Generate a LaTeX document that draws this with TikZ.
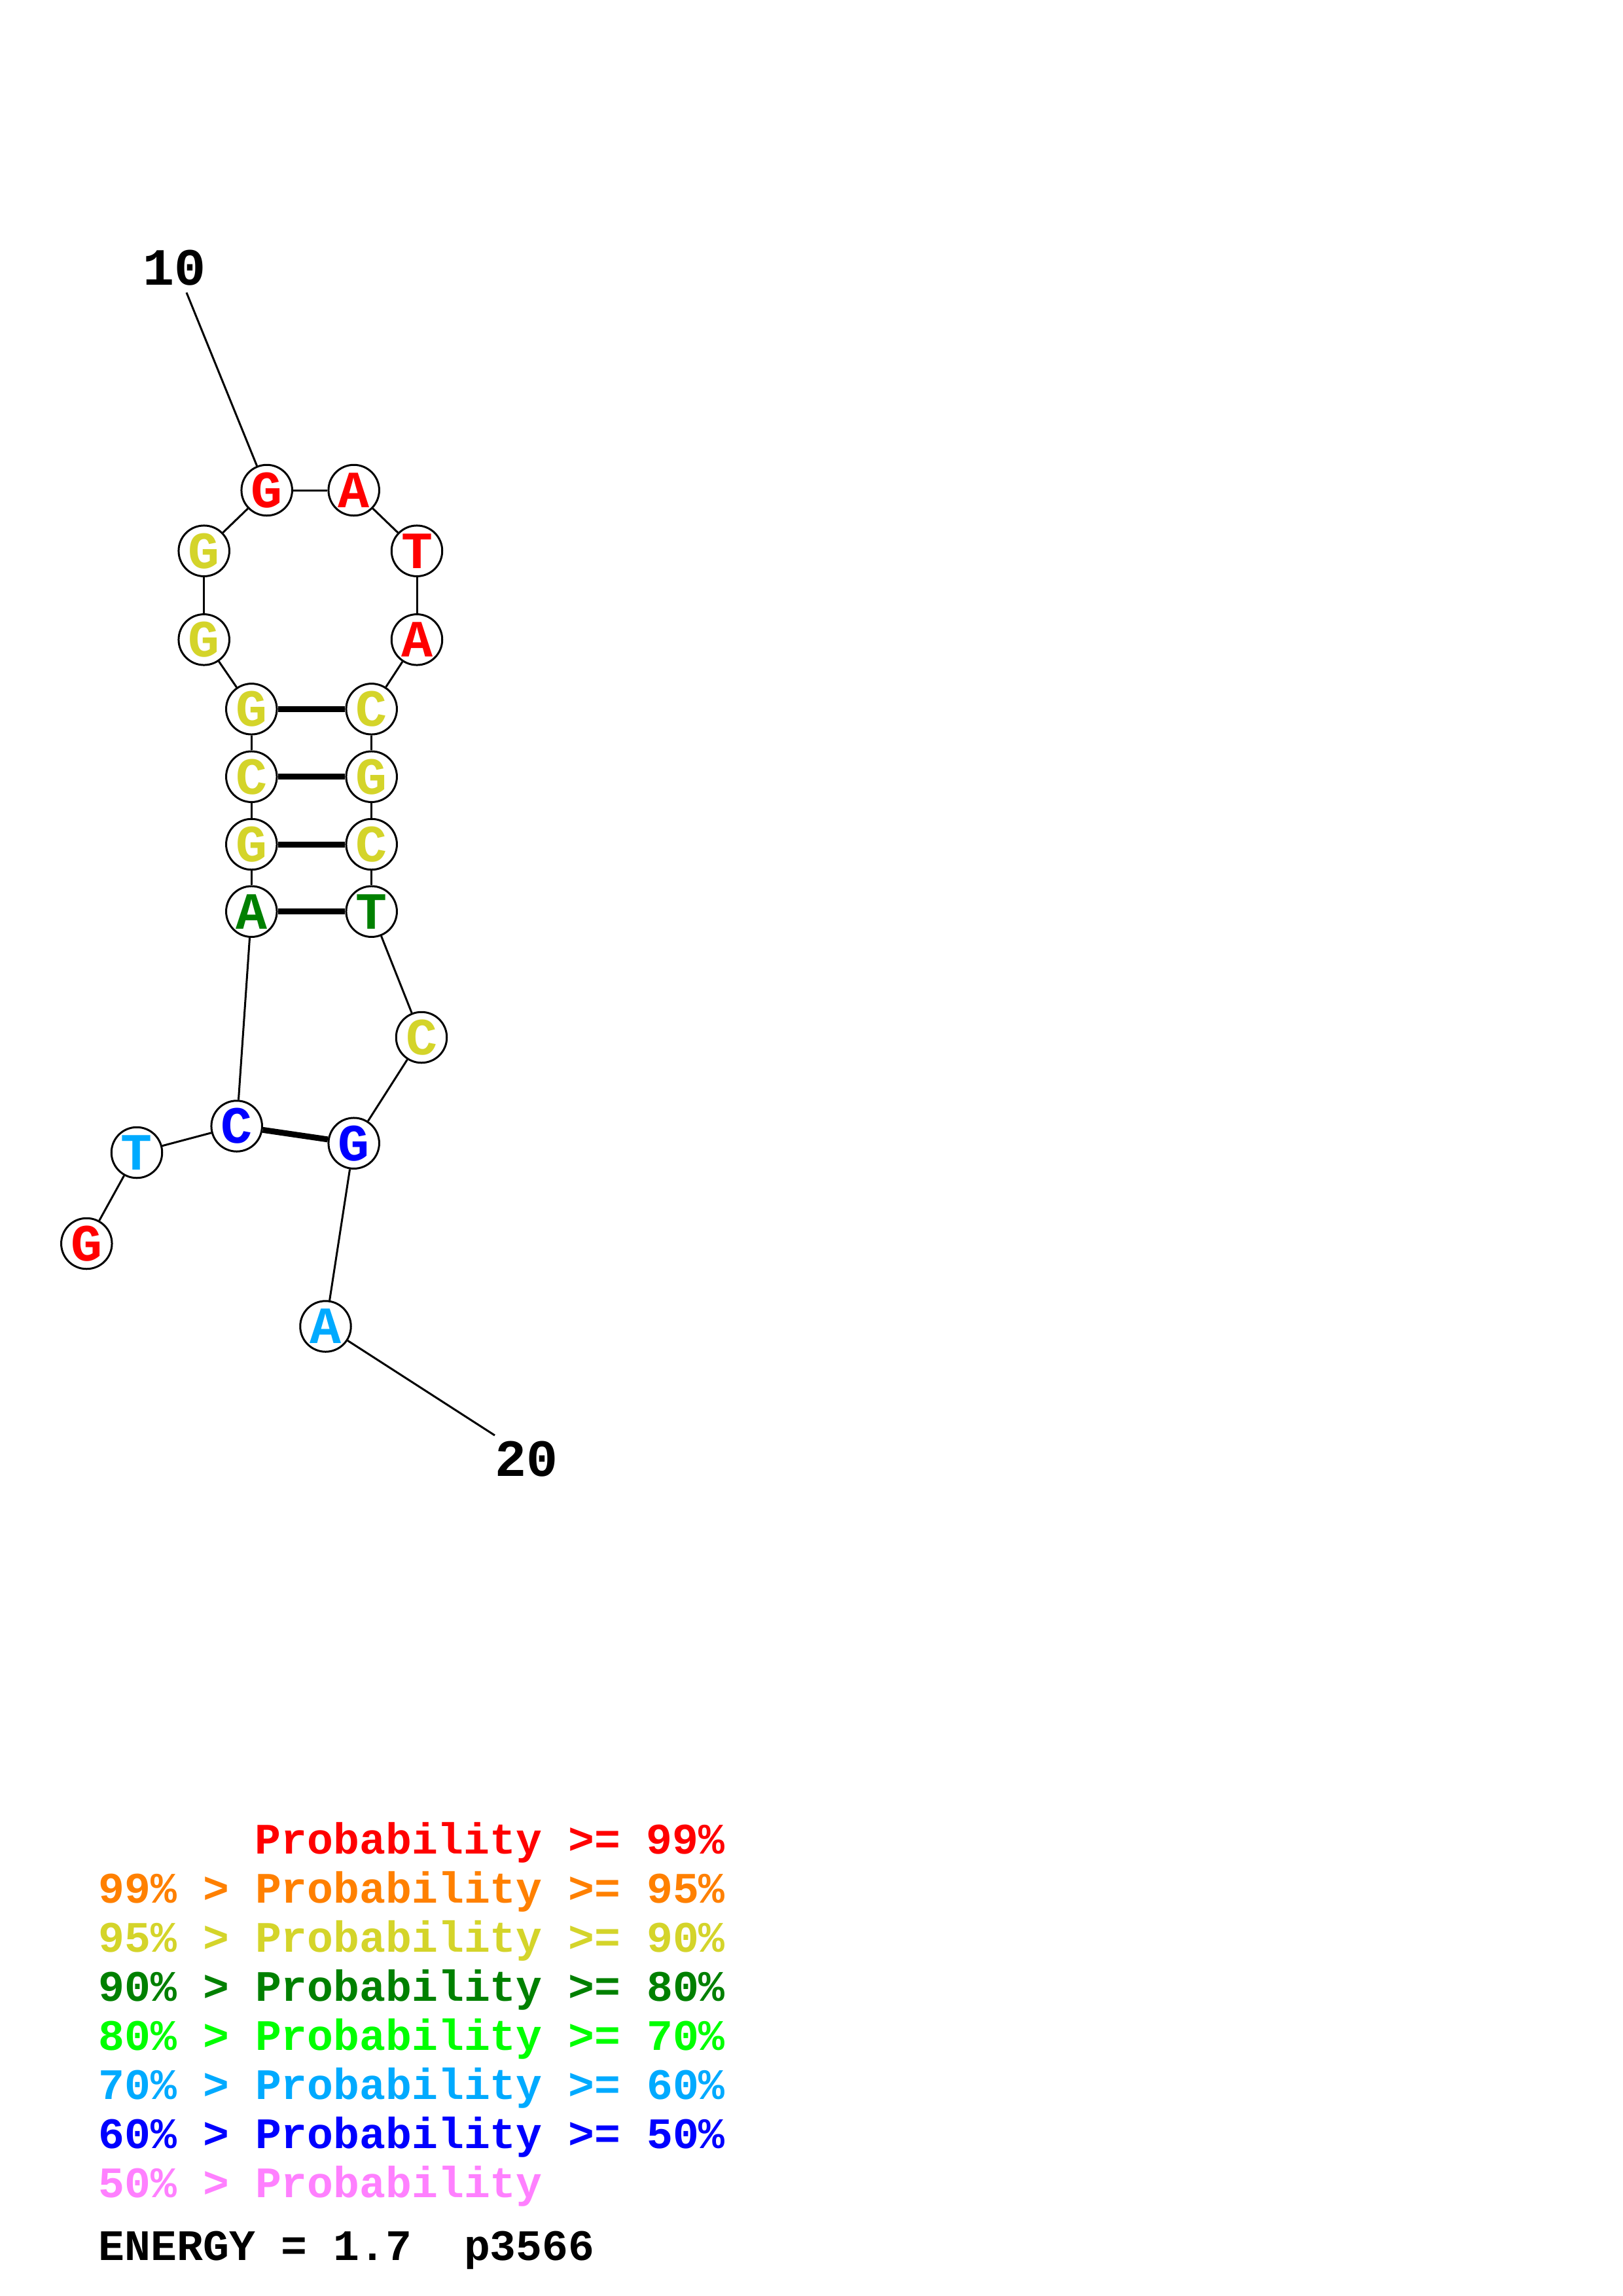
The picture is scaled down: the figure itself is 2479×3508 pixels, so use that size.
\documentclass[tikz,border=0pt]{standalone}
\usepackage{fontspec}
\setmainfont{Liberation Mono}
\definecolor{cR}{RGB}{255,0,0}
\definecolor{cO}{RGB}{255,128,0}
\definecolor{cY}{RGB}{212,212,42}
\definecolor{cDG}{RGB}{0,128,0}
\definecolor{cG}{RGB}{0,255,0}
\definecolor{cLB}{RGB}{0,170,255}
\definecolor{cB}{RGB}{0,0,255}
\definecolor{cP}{RGB}{255,128,255}
\newcommand\rnafont{\fontsize{19.2bp}{19.2bp}\selectfont\bfseries}
\newcommand\legfont{\fontsize{15.95bp}{15.95bp}\selectfont\bfseries}
\newcommand\nt[1]{\raisebox{-0.9bp}{#1}}
\begin{document}
\begin{tikzpicture}[x=0.24bp,y=-0.24bp,
  base/.style={circle, draw=black, line width=0.72bp, minimum size=18.6bp, inner sep=0pt, font=\rnafont, fill=white},
  bb/.style={line width=0.72bp, black},
  pairline/.style={line width=2.15bp, black},
  numlbl/.style={font=\rnafont, inner sep=0pt},
  leg/.style={font=\legfont, anchor=base west, inner sep=0pt}]
\useasboundingbox (0,0) rectangle (2479,3508);
\fill[white] (0,0) rectangle (2479,3508);
% labels
\node[numlbl] (l10) at (267,409) {10};
\node[numlbl] (l20) at (805,2229) {20};
\coordinate (e10) at (285,447);
\coordinate (e20) at (756,2193);
% nodes
\node[base, text=cR] (Gt) at (407.7,749) {\nt{G}};
\node[base, text=cR] (At) at (540.7,749) {\nt{A}};
\node[base, text=cR] (Tr) at (637,841.7) {\nt{T}};
\node[base, text=cR] (Ar) at (637,977.3) {\nt{A}};
\node[base, text=cY] (Gl1) at (311.7,841.7) {\nt{G}};
\node[base, text=cY] (Gl2) at (311.7,977.3) {\nt{G}};
\node[base, text=cY] (S1l) at (384.3,1083.3) {\nt{G}};
\node[base, text=cY] (S2l) at (384.3,1186.7) {\nt{C}};
\node[base, text=cY] (S3l) at (384.3,1290) {\nt{G}};
\node[base, text=cDG] (S4l) at (384.3,1392.7) {\nt{A}};
\node[base, text=cY] (S1r) at (567.7,1083.3) {\nt{C}};
\node[base, text=cY] (S2r) at (567.7,1186.7) {\nt{G}};
\node[base, text=cY] (S3r) at (567.7,1290) {\nt{C}};
\node[base, text=cDG] (S4r) at (567.7,1392.7) {\nt{T}};
\node[base, text=cY] (Cy) at (644,1585) {\nt{C}};
\node[base, text=cB] (Gb) at (540.7,1746.7) {\nt{G}};
\node[base, text=cB] (Cb) at (361.7,1720.5) {\nt{C}};
\node[base, text=cLB] (Tl) at (209,1761) {\nt{T}};
\node[base, text=cR] (Gr) at (132.3,1900) {\nt{G}};
\node[base, text=cLB] (Aa) at (497.5,2026.5) {\nt{A}};
% backbone
\draw[bb] (e10) -- (Gt);
\draw[bb] (Gt) -- (At);
\draw[bb] (At) -- (Tr);
\draw[bb] (Tr) -- (Ar);
\draw[bb] (Ar) -- (S1r);
\draw[bb] (S1r) -- (S2r);
\draw[bb] (S2r) -- (S3r);
\draw[bb] (S3r) -- (S4r);
\draw[bb] (S4r) -- (Cy);
\draw[bb] (Cy) -- (Gb);
\draw[bb] (Gb) -- (Aa);
\draw[bb] (Aa) -- (e20);
\draw[bb] (Gt) -- (Gl1);
\draw[bb] (Gl1) -- (Gl2);
\draw[bb] (Gl2) -- (S1l);
\draw[bb] (S1l) -- (S2l);
\draw[bb] (S2l) -- (S3l);
\draw[bb] (S3l) -- (S4l);
\draw[bb] (S4l) -- (Cb);
\draw[bb] (Cb) -- (Tl);
\draw[bb] (Tl) -- (Gr);
% pairs
\draw[pairline] (S1l) -- (S1r);
\draw[pairline] (S2l) -- (S2r);
\draw[pairline] (S3l) -- (S3r);
\draw[pairline] (S4l) -- (S4r);
\draw[pairline] (Cb) -- (Gb);
% legend
\node[leg, text=cR] (lg1) at (389,2832) {Probability >= 99\%};
\node[leg, text=cO] (lg2) at (150,2907) {99\% > Probability >= 95\%};
\node[leg, text=cY] (lg3) at (150,2982) {95\% > Probability >= 90\%};
\node[leg, text=cDG] (lg4) at (150,3057) {90\% > Probability >= 80\%};
\node[leg, text=cG] (lg5) at (150,3132) {80\% > Probability >= 70\%};
\node[leg, text=cLB] (lg6) at (150,3207) {70\% > Probability >= 60\%};
\node[leg, text=cB] (lg7) at (150,3282) {60\% > Probability >= 50\%};
\node[leg, text=cP] (lg8) at (150,3357) {50\% > Probability};
\node[leg, text=black] (en) at (150,3453) {ENERGY = 1.7\ \ p3566};
\end{tikzpicture}
\end{document}
